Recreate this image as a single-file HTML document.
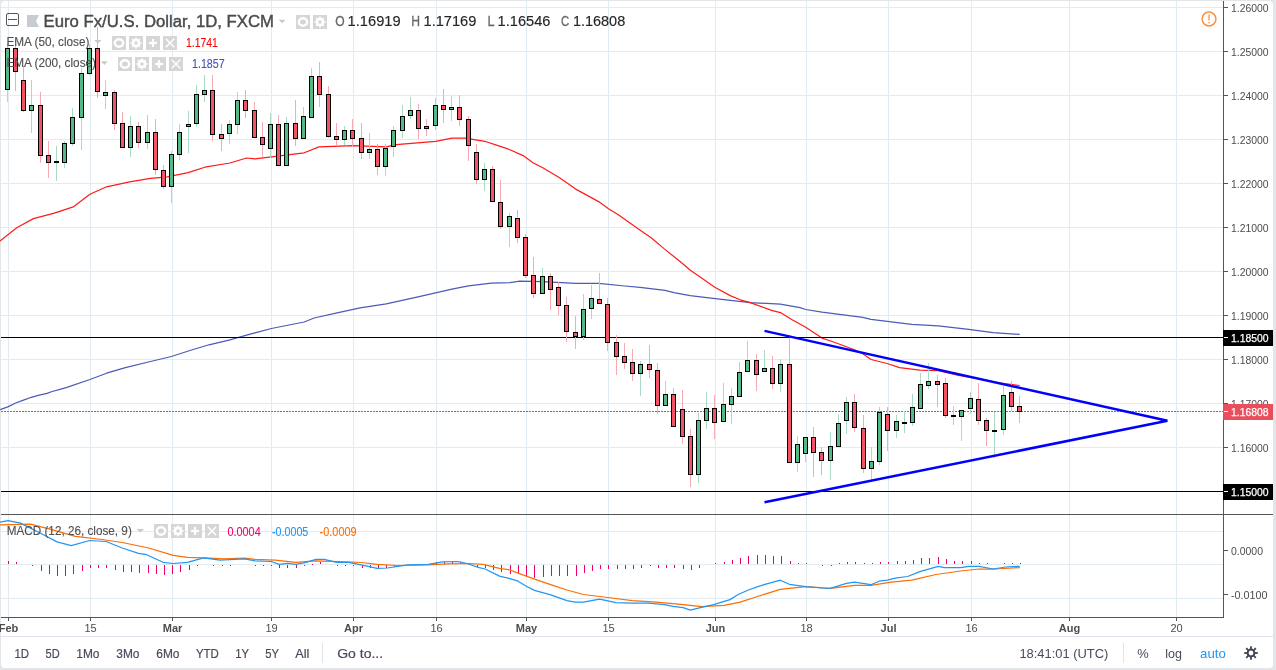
<!DOCTYPE html>
<html><head><meta charset="utf-8"><style>
html,body{margin:0;padding:0;}
body{width:1276px;height:670px;background:#e3e6e9;position:relative;overflow:hidden;font-family:"Liberation Sans",sans-serif;}
#pane{position:absolute;left:1px;top:1px;width:1272px;height:667px;background:#fff;border-radius:4px;}
svg{position:absolute;left:0;top:0;will-change:transform;}
</style></head><body>
<div id="pane"></div>
<svg width="1276" height="670" viewBox="0 0 1276 670">
<rect x="1" y="7" width="1222" height="1" fill="#e1ecf2"/>
<rect x="1" y="51" width="1222" height="1" fill="#e1ecf2"/>
<rect x="1" y="95" width="1222" height="1" fill="#e1ecf2"/>
<rect x="1" y="139" width="1222" height="1" fill="#e1ecf2"/>
<rect x="1" y="183" width="1222" height="1" fill="#e1ecf2"/>
<rect x="1" y="227" width="1222" height="1" fill="#e1ecf2"/>
<rect x="1" y="271" width="1222" height="1" fill="#e1ecf2"/>
<rect x="1" y="315" width="1222" height="1" fill="#e1ecf2"/>
<rect x="1" y="359" width="1222" height="1" fill="#e1ecf2"/>
<rect x="1" y="403" width="1222" height="1" fill="#e1ecf2"/>
<rect x="1" y="447" width="1222" height="1" fill="#e1ecf2"/>
<rect x="1" y="491" width="1222" height="1" fill="#e1ecf2"/>
<rect x="1" y="531" width="1222" height="1" fill="#e1ecf2"/>
<rect x="1" y="564" width="1222" height="1" fill="#e1ecf2"/>
<rect x="1" y="598" width="1222" height="1" fill="#e1ecf2"/>
<rect x="8" y="1" width="1" height="616" fill="#e1ecf2"/>
<rect x="90" y="1" width="1" height="616" fill="#e1ecf2"/>
<rect x="172" y="1" width="1" height="616" fill="#e1ecf2"/>
<rect x="271" y="1" width="1" height="616" fill="#e1ecf2"/>
<rect x="353" y="1" width="1" height="616" fill="#e1ecf2"/>
<rect x="436" y="1" width="1" height="616" fill="#e1ecf2"/>
<rect x="526" y="1" width="1" height="616" fill="#e1ecf2"/>
<rect x="608" y="1" width="1" height="616" fill="#e1ecf2"/>
<rect x="715" y="1" width="1" height="616" fill="#e1ecf2"/>
<rect x="806" y="1" width="1" height="616" fill="#e1ecf2"/>
<rect x="888" y="1" width="1" height="616" fill="#e1ecf2"/>
<rect x="971" y="1" width="1" height="616" fill="#e1ecf2"/>
<rect x="1069" y="1" width="1" height="616" fill="#e1ecf2"/>
<rect x="1176" y="1" width="1" height="616" fill="#e1ecf2"/>
<polyline points="0.0,409.8 1.0,409.4 7.8,406.9 15.7,403.0 23.5,400.1 31.3,397.3 39.2,395.2 47.0,393.4 52.2,391.5 60.0,389.4 66.9,387.4 89.9,379.5 106.6,373.2 125.4,367.7 150.5,361.5 171.4,356.5 192.3,349.8 209.0,344.8 229.9,339.8 246.6,335.2 255.0,332.8 271.4,328.5 304.2,322.0 314.1,318.0 337.1,312.8 360.1,307.8 386.3,303.9 419.1,296.7 452.0,289.1 468.4,285.8 491.4,283.2 510.0,282.7 519.8,281.1 542.8,281.7 575.7,283.4 598.6,283.4 624.9,286.0 640.0,287.3 665.1,290.3 673.9,292.6 690.2,295.7 715.2,298.6 750.3,302.6 780.4,304.2 800.0,307.6 805.7,309.5 822.0,312.2 862.8,317.3 871.0,319.3 911.7,324.4 938.2,325.8 968.7,329.3 993.2,332.6 1019.7,334.4" fill="none" stroke="#4a5bb8" stroke-width="1.2" stroke-linejoin="round"/>
<polyline points="0.0,241.1 16.7,227.8 33.4,218.6 54.3,213.1 73.2,206.9 89.9,194.3 106.6,186.8 129.6,181.8 150.5,178.4 167.2,176.8 188.1,172.6 204.8,167.2 229.9,163.0 246.6,158.0 255.0,158.8 304.2,152.8 319.0,146.9 353.5,145.6 386.3,146.9 396.2,144.6 435.6,141.3 452.0,138.1 465.1,138.1 484.8,141.3 498.0,145.6 510.0,149.7 523.1,155.6 533.0,162.8 542.8,167.8 559.2,177.6 575.7,189.1 598.6,201.6 608.5,208.8 618.3,214.7 641.3,231.1 651.2,237.7 664.3,248.9 680.7,262.0 690.0,270.0 715.2,287.5 730.2,295.6 740.2,299.8 750.3,302.6 771.6,310.4 780.4,312.6 791.7,319.5 805.7,327.3 822.0,338.1 832.2,341.5 854.6,349.7 862.8,353.8 871.0,359.5 887.2,363.5 899.5,367.6 919.9,370.1 938.2,370.7 958.6,375.4 978.9,378.8 999.3,382.9 1019.7,385.5" fill="none" stroke="#ff1a1a" stroke-width="1.2" stroke-linejoin="round"/>
<rect x="1" y="337" width="1222" height="1" fill="#000"/>
<rect x="1" y="491" width="1222" height="1" fill="#000"/>
<line x1="1" y1="411.5" x2="1223" y2="411.5" stroke="#e8404f" stroke-width="1" stroke-dasharray="2,1"/>
<g shape-rendering="crispEdges"><rect x="7" y="44" width="1" height="58" fill="#a9dcc3"/><rect x="5" y="48" width="5" height="42" fill="#000"/><rect x="6" y="49" width="3" height="40" fill="#53b987"/><rect x="15" y="40" width="1" height="51" fill="#f7a9b2"/><rect x="13" y="48" width="5" height="24" fill="#000"/><rect x="14" y="49" width="3" height="22" fill="#f35365"/><rect x="23" y="66" width="1" height="46" fill="#f7a9b2"/><rect x="21" y="80" width="5" height="31" fill="#000"/><rect x="22" y="81" width="3" height="29" fill="#f35365"/><rect x="31" y="80" width="1" height="53" fill="#a9dcc3"/><rect x="29" y="105" width="5" height="6" fill="#000"/><rect x="30" y="106" width="3" height="4" fill="#53b987"/><rect x="40" y="92" width="1" height="71" fill="#f7a9b2"/><rect x="38" y="105" width="5" height="51" fill="#000"/><rect x="39" y="106" width="3" height="49" fill="#f35365"/><rect x="48" y="141" width="1" height="37" fill="#f7a9b2"/><rect x="46" y="155" width="5" height="8" fill="#000"/><rect x="47" y="156" width="3" height="6" fill="#f35365"/><rect x="56" y="146" width="1" height="35" fill="#a9dcc3"/><rect x="54" y="161" width="5" height="2" fill="#000"/><rect x="64" y="141" width="1" height="27" fill="#a9dcc3"/><rect x="62" y="143" width="5" height="20" fill="#000"/><rect x="63" y="144" width="3" height="18" fill="#53b987"/><rect x="72" y="108" width="1" height="38" fill="#a9dcc3"/><rect x="70" y="117" width="5" height="27" fill="#000"/><rect x="71" y="118" width="3" height="25" fill="#53b987"/><rect x="81" y="68" width="1" height="82" fill="#a9dcc3"/><rect x="79" y="73" width="5" height="45" fill="#000"/><rect x="80" y="74" width="3" height="43" fill="#53b987"/><rect x="89" y="44" width="1" height="31" fill="#a9dcc3"/><rect x="87" y="48" width="5" height="26" fill="#000"/><rect x="88" y="49" width="3" height="24" fill="#53b987"/><rect x="97" y="27" width="1" height="71" fill="#f7a9b2"/><rect x="95" y="48" width="5" height="44" fill="#000"/><rect x="96" y="49" width="3" height="42" fill="#f35365"/><rect x="105" y="80" width="1" height="29" fill="#a9dcc3"/><rect x="103" y="92" width="5" height="4" fill="#000"/><rect x="104" y="93" width="3" height="2" fill="#53b987"/><rect x="114" y="90" width="1" height="40" fill="#f7a9b2"/><rect x="112" y="92" width="5" height="32" fill="#000"/><rect x="113" y="93" width="3" height="30" fill="#f35365"/><rect x="122" y="112" width="1" height="36" fill="#f7a9b2"/><rect x="120" y="123" width="5" height="25" fill="#000"/><rect x="121" y="124" width="3" height="23" fill="#f35365"/><rect x="130" y="116" width="1" height="41" fill="#a9dcc3"/><rect x="128" y="126" width="5" height="22" fill="#000"/><rect x="129" y="127" width="3" height="20" fill="#53b987"/><rect x="138" y="122" width="1" height="26" fill="#f7a9b2"/><rect x="136" y="126" width="5" height="17" fill="#000"/><rect x="137" y="127" width="3" height="15" fill="#f35365"/><rect x="147" y="115" width="1" height="34" fill="#a9dcc3"/><rect x="145" y="132" width="5" height="11" fill="#000"/><rect x="146" y="133" width="3" height="9" fill="#53b987"/><rect x="155" y="119" width="1" height="56" fill="#f7a9b2"/><rect x="153" y="132" width="5" height="38" fill="#000"/><rect x="154" y="133" width="3" height="36" fill="#f35365"/><rect x="163" y="165" width="1" height="24" fill="#f7a9b2"/><rect x="161" y="170" width="5" height="17" fill="#000"/><rect x="162" y="171" width="3" height="15" fill="#f35365"/><rect x="171" y="151" width="1" height="52" fill="#a9dcc3"/><rect x="169" y="154" width="5" height="33" fill="#000"/><rect x="170" y="155" width="3" height="31" fill="#53b987"/><rect x="179" y="124" width="1" height="36" fill="#a9dcc3"/><rect x="177" y="132" width="5" height="23" fill="#000"/><rect x="178" y="133" width="3" height="21" fill="#53b987"/><rect x="188" y="111" width="1" height="42" fill="#a9dcc3"/><rect x="186" y="124" width="5" height="3" fill="#000"/><rect x="187" y="125" width="3" height="1" fill="#53b987"/><rect x="196" y="85" width="1" height="42" fill="#a9dcc3"/><rect x="194" y="94" width="5" height="30" fill="#000"/><rect x="195" y="95" width="3" height="28" fill="#53b987"/><rect x="204" y="75" width="1" height="27" fill="#a9dcc3"/><rect x="202" y="90" width="5" height="5" fill="#000"/><rect x="203" y="91" width="3" height="3" fill="#53b987"/><rect x="212" y="75" width="1" height="66" fill="#f7a9b2"/><rect x="210" y="90" width="5" height="45" fill="#000"/><rect x="211" y="91" width="3" height="43" fill="#f35365"/><rect x="221" y="124" width="1" height="27" fill="#f7a9b2"/><rect x="219" y="134" width="5" height="5" fill="#000"/><rect x="220" y="135" width="3" height="3" fill="#f35365"/><rect x="229" y="120" width="1" height="24" fill="#a9dcc3"/><rect x="227" y="124" width="5" height="10" fill="#000"/><rect x="228" y="125" width="3" height="8" fill="#53b987"/><rect x="237" y="92" width="1" height="42" fill="#a9dcc3"/><rect x="235" y="100" width="5" height="25" fill="#000"/><rect x="236" y="101" width="3" height="23" fill="#53b987"/><rect x="245" y="90" width="1" height="28" fill="#f7a9b2"/><rect x="243" y="100" width="5" height="11" fill="#000"/><rect x="244" y="101" width="3" height="9" fill="#f35365"/><rect x="254" y="102" width="1" height="36" fill="#f7a9b2"/><rect x="252" y="110" width="5" height="28" fill="#000"/><rect x="253" y="111" width="3" height="26" fill="#f35365"/><rect x="262" y="122" width="1" height="35" fill="#f7a9b2"/><rect x="260" y="137" width="5" height="8" fill="#000"/><rect x="261" y="138" width="3" height="6" fill="#f35365"/><rect x="270" y="113" width="1" height="45" fill="#a9dcc3"/><rect x="268" y="124" width="5" height="25" fill="#000"/><rect x="269" y="125" width="3" height="23" fill="#53b987"/><rect x="278" y="115" width="1" height="51" fill="#f7a9b2"/><rect x="276" y="124" width="5" height="42" fill="#000"/><rect x="277" y="125" width="3" height="40" fill="#f35365"/><rect x="286" y="117" width="1" height="49" fill="#a9dcc3"/><rect x="284" y="123" width="5" height="43" fill="#000"/><rect x="285" y="124" width="3" height="41" fill="#53b987"/><rect x="295" y="100" width="1" height="46" fill="#f7a9b2"/><rect x="293" y="123" width="5" height="16" fill="#000"/><rect x="294" y="124" width="3" height="14" fill="#f35365"/><rect x="303" y="107" width="1" height="32" fill="#a9dcc3"/><rect x="301" y="116" width="5" height="23" fill="#000"/><rect x="302" y="117" width="3" height="21" fill="#53b987"/><rect x="311" y="68" width="1" height="50" fill="#a9dcc3"/><rect x="309" y="76" width="5" height="42" fill="#000"/><rect x="310" y="77" width="3" height="40" fill="#53b987"/><rect x="319" y="62" width="1" height="45" fill="#f7a9b2"/><rect x="317" y="76" width="5" height="19" fill="#000"/><rect x="318" y="77" width="3" height="17" fill="#f35365"/><rect x="328" y="86" width="1" height="52" fill="#f7a9b2"/><rect x="326" y="94" width="5" height="43" fill="#000"/><rect x="327" y="95" width="3" height="41" fill="#f35365"/><rect x="336" y="123" width="1" height="23" fill="#f7a9b2"/><rect x="334" y="136" width="5" height="4" fill="#000"/><rect x="335" y="137" width="3" height="2" fill="#f35365"/><rect x="344" y="126" width="1" height="19" fill="#a9dcc3"/><rect x="342" y="130" width="5" height="10" fill="#000"/><rect x="343" y="131" width="3" height="8" fill="#53b987"/><rect x="352" y="119" width="1" height="28" fill="#f7a9b2"/><rect x="350" y="130" width="5" height="9" fill="#000"/><rect x="351" y="131" width="3" height="7" fill="#f35365"/><rect x="361" y="123" width="1" height="36" fill="#f7a9b2"/><rect x="359" y="138" width="5" height="15" fill="#000"/><rect x="360" y="139" width="3" height="13" fill="#f35365"/><rect x="369" y="133" width="1" height="26" fill="#a9dcc3"/><rect x="367" y="149" width="5" height="4" fill="#000"/><rect x="368" y="150" width="3" height="2" fill="#53b987"/><rect x="377" y="144" width="1" height="31" fill="#f7a9b2"/><rect x="375" y="149" width="5" height="18" fill="#000"/><rect x="376" y="150" width="3" height="16" fill="#f35365"/><rect x="385" y="144" width="1" height="32" fill="#a9dcc3"/><rect x="383" y="148" width="5" height="19" fill="#000"/><rect x="384" y="149" width="3" height="17" fill="#53b987"/><rect x="393" y="126" width="1" height="31" fill="#a9dcc3"/><rect x="391" y="130" width="5" height="17" fill="#000"/><rect x="392" y="131" width="3" height="15" fill="#53b987"/><rect x="402" y="105" width="1" height="33" fill="#a9dcc3"/><rect x="400" y="116" width="5" height="15" fill="#000"/><rect x="401" y="117" width="3" height="13" fill="#53b987"/><rect x="410" y="97" width="1" height="22" fill="#a9dcc3"/><rect x="408" y="110" width="5" height="6" fill="#000"/><rect x="409" y="111" width="3" height="4" fill="#53b987"/><rect x="418" y="104" width="1" height="35" fill="#f7a9b2"/><rect x="416" y="110" width="5" height="19" fill="#000"/><rect x="417" y="111" width="3" height="17" fill="#f35365"/><rect x="426" y="119" width="1" height="17" fill="#f7a9b2"/><rect x="424" y="126" width="5" height="3" fill="#000"/><rect x="425" y="127" width="3" height="1" fill="#f35365"/><rect x="435" y="98" width="1" height="32" fill="#a9dcc3"/><rect x="433" y="105" width="5" height="21" fill="#000"/><rect x="434" y="106" width="3" height="19" fill="#53b987"/><rect x="443" y="89" width="1" height="34" fill="#f7a9b2"/><rect x="441" y="105" width="5" height="5" fill="#000"/><rect x="442" y="106" width="3" height="3" fill="#f35365"/><rect x="451" y="96" width="1" height="25" fill="#a9dcc3"/><rect x="449" y="107" width="5" height="3" fill="#000"/><rect x="450" y="108" width="3" height="1" fill="#53b987"/><rect x="459" y="95" width="1" height="31" fill="#f7a9b2"/><rect x="457" y="107" width="5" height="13" fill="#000"/><rect x="458" y="108" width="3" height="11" fill="#f35365"/><rect x="468" y="116" width="1" height="45" fill="#f7a9b2"/><rect x="466" y="119" width="5" height="27" fill="#000"/><rect x="467" y="120" width="3" height="25" fill="#f35365"/><rect x="476" y="144" width="1" height="40" fill="#f7a9b2"/><rect x="474" y="152" width="5" height="28" fill="#000"/><rect x="475" y="153" width="3" height="26" fill="#f35365"/><rect x="484" y="163" width="1" height="28" fill="#a9dcc3"/><rect x="482" y="169" width="5" height="11" fill="#000"/><rect x="483" y="170" width="3" height="9" fill="#53b987"/><rect x="492" y="166" width="1" height="36" fill="#f7a9b2"/><rect x="490" y="169" width="5" height="33" fill="#000"/><rect x="491" y="170" width="3" height="31" fill="#f35365"/><rect x="500" y="180" width="1" height="49" fill="#f7a9b2"/><rect x="498" y="202" width="5" height="25" fill="#000"/><rect x="499" y="203" width="3" height="23" fill="#f35365"/><rect x="509" y="213" width="1" height="34" fill="#a9dcc3"/><rect x="507" y="216" width="5" height="11" fill="#000"/><rect x="508" y="217" width="3" height="9" fill="#53b987"/><rect x="517" y="210" width="1" height="33" fill="#f7a9b2"/><rect x="515" y="218" width="5" height="20" fill="#000"/><rect x="516" y="219" width="3" height="18" fill="#f35365"/><rect x="525" y="234" width="1" height="44" fill="#f7a9b2"/><rect x="523" y="237" width="5" height="39" fill="#000"/><rect x="524" y="238" width="3" height="37" fill="#f35365"/><rect x="533" y="257" width="1" height="41" fill="#f7a9b2"/><rect x="531" y="275" width="5" height="19" fill="#000"/><rect x="532" y="276" width="3" height="17" fill="#f35365"/><rect x="542" y="268" width="1" height="26" fill="#a9dcc3"/><rect x="540" y="276" width="5" height="18" fill="#000"/><rect x="541" y="277" width="3" height="16" fill="#53b987"/><rect x="550" y="273" width="1" height="37" fill="#f7a9b2"/><rect x="548" y="276" width="5" height="14" fill="#000"/><rect x="549" y="277" width="3" height="12" fill="#f35365"/><rect x="558" y="282" width="1" height="33" fill="#f7a9b2"/><rect x="556" y="287" width="5" height="19" fill="#000"/><rect x="557" y="288" width="3" height="17" fill="#f35365"/><rect x="566" y="297" width="1" height="45" fill="#f7a9b2"/><rect x="564" y="305" width="5" height="27" fill="#000"/><rect x="565" y="306" width="3" height="25" fill="#f35365"/><rect x="575" y="316" width="1" height="33" fill="#f7a9b2"/><rect x="573" y="332" width="5" height="5" fill="#000"/><rect x="574" y="333" width="3" height="3" fill="#f35365"/><rect x="583" y="294" width="1" height="46" fill="#a9dcc3"/><rect x="581" y="309" width="5" height="28" fill="#000"/><rect x="582" y="310" width="3" height="26" fill="#53b987"/><rect x="591" y="285" width="1" height="34" fill="#a9dcc3"/><rect x="589" y="298" width="5" height="11" fill="#000"/><rect x="590" y="299" width="3" height="9" fill="#53b987"/><rect x="599" y="273" width="1" height="31" fill="#f7a9b2"/><rect x="597" y="299" width="5" height="5" fill="#000"/><rect x="598" y="300" width="3" height="3" fill="#f35365"/><rect x="607" y="298" width="1" height="53" fill="#f7a9b2"/><rect x="605" y="304" width="5" height="39" fill="#000"/><rect x="606" y="305" width="3" height="37" fill="#f35365"/><rect x="616" y="335" width="1" height="40" fill="#f7a9b2"/><rect x="614" y="342" width="5" height="15" fill="#000"/><rect x="615" y="343" width="3" height="13" fill="#f35365"/><rect x="624" y="343" width="1" height="26" fill="#f7a9b2"/><rect x="622" y="356" width="5" height="7" fill="#000"/><rect x="623" y="357" width="3" height="5" fill="#f35365"/><rect x="632" y="349" width="1" height="32" fill="#f7a9b2"/><rect x="630" y="362" width="5" height="12" fill="#000"/><rect x="631" y="363" width="3" height="10" fill="#f35365"/><rect x="640" y="361" width="1" height="35" fill="#a9dcc3"/><rect x="638" y="364" width="5" height="10" fill="#000"/><rect x="639" y="365" width="3" height="8" fill="#53b987"/><rect x="649" y="345" width="1" height="33" fill="#f7a9b2"/><rect x="647" y="364" width="5" height="6" fill="#000"/><rect x="648" y="365" width="3" height="4" fill="#f35365"/><rect x="657" y="363" width="1" height="51" fill="#f7a9b2"/><rect x="655" y="370" width="5" height="36" fill="#000"/><rect x="656" y="371" width="3" height="34" fill="#f35365"/><rect x="665" y="381" width="1" height="25" fill="#a9dcc3"/><rect x="663" y="394" width="5" height="12" fill="#000"/><rect x="664" y="395" width="3" height="10" fill="#53b987"/><rect x="673" y="388" width="1" height="39" fill="#f7a9b2"/><rect x="671" y="394" width="5" height="33" fill="#000"/><rect x="672" y="395" width="3" height="31" fill="#f35365"/><rect x="682" y="390" width="1" height="54" fill="#f7a9b2"/><rect x="680" y="409" width="5" height="28" fill="#000"/><rect x="681" y="410" width="3" height="26" fill="#f35365"/><rect x="690" y="429" width="1" height="58" fill="#f7a9b2"/><rect x="688" y="436" width="5" height="39" fill="#000"/><rect x="689" y="437" width="3" height="37" fill="#f35365"/><rect x="698" y="413" width="1" height="70" fill="#a9dcc3"/><rect x="696" y="420" width="5" height="55" fill="#000"/><rect x="697" y="421" width="3" height="53" fill="#53b987"/><rect x="706" y="392" width="1" height="37" fill="#a9dcc3"/><rect x="704" y="408" width="5" height="13" fill="#000"/><rect x="705" y="409" width="3" height="11" fill="#53b987"/><rect x="714" y="395" width="1" height="44" fill="#f7a9b2"/><rect x="712" y="408" width="5" height="15" fill="#000"/><rect x="713" y="409" width="3" height="13" fill="#f35365"/><rect x="723" y="383" width="1" height="39" fill="#a9dcc3"/><rect x="721" y="404" width="5" height="18" fill="#000"/><rect x="722" y="405" width="3" height="16" fill="#53b987"/><rect x="731" y="388" width="1" height="36" fill="#a9dcc3"/><rect x="729" y="396" width="5" height="9" fill="#000"/><rect x="730" y="397" width="3" height="7" fill="#53b987"/><rect x="739" y="362" width="1" height="35" fill="#a9dcc3"/><rect x="737" y="372" width="5" height="25" fill="#000"/><rect x="738" y="373" width="3" height="23" fill="#53b987"/><rect x="747" y="341" width="1" height="31" fill="#a9dcc3"/><rect x="745" y="360" width="5" height="12" fill="#000"/><rect x="746" y="361" width="3" height="10" fill="#53b987"/><rect x="756" y="354" width="1" height="37" fill="#f7a9b2"/><rect x="754" y="360" width="5" height="15" fill="#000"/><rect x="755" y="361" width="3" height="13" fill="#f35365"/><rect x="764" y="350" width="1" height="22" fill="#a9dcc3"/><rect x="762" y="368" width="5" height="4" fill="#000"/><rect x="763" y="369" width="3" height="2" fill="#53b987"/><rect x="772" y="356" width="1" height="33" fill="#f7a9b2"/><rect x="770" y="368" width="5" height="16" fill="#000"/><rect x="771" y="369" width="3" height="14" fill="#f35365"/><rect x="780" y="359" width="1" height="33" fill="#a9dcc3"/><rect x="778" y="364" width="5" height="20" fill="#000"/><rect x="779" y="365" width="3" height="18" fill="#53b987"/><rect x="789" y="335" width="1" height="128" fill="#f7a9b2"/><rect x="787" y="364" width="5" height="99" fill="#000"/><rect x="788" y="365" width="3" height="97" fill="#f35365"/><rect x="797" y="436" width="1" height="36" fill="#a9dcc3"/><rect x="795" y="444" width="5" height="19" fill="#000"/><rect x="796" y="445" width="3" height="17" fill="#53b987"/><rect x="805" y="437" width="1" height="25" fill="#a9dcc3"/><rect x="803" y="437" width="5" height="17" fill="#000"/><rect x="804" y="438" width="3" height="15" fill="#53b987"/><rect x="813" y="427" width="1" height="50" fill="#f7a9b2"/><rect x="811" y="437" width="5" height="16" fill="#000"/><rect x="812" y="438" width="3" height="14" fill="#f35365"/><rect x="821" y="447" width="1" height="28" fill="#f7a9b2"/><rect x="819" y="452" width="5" height="9" fill="#000"/><rect x="820" y="453" width="3" height="7" fill="#f35365"/><rect x="830" y="432" width="1" height="48" fill="#a9dcc3"/><rect x="828" y="446" width="5" height="15" fill="#000"/><rect x="829" y="447" width="3" height="13" fill="#53b987"/><rect x="838" y="414" width="1" height="33" fill="#a9dcc3"/><rect x="836" y="423" width="5" height="24" fill="#000"/><rect x="837" y="424" width="3" height="22" fill="#53b987"/><rect x="846" y="397" width="1" height="37" fill="#a9dcc3"/><rect x="844" y="402" width="5" height="19" fill="#000"/><rect x="845" y="403" width="3" height="17" fill="#53b987"/><rect x="854" y="394" width="1" height="38" fill="#f7a9b2"/><rect x="852" y="402" width="5" height="26" fill="#000"/><rect x="853" y="403" width="3" height="24" fill="#f35365"/><rect x="863" y="415" width="1" height="58" fill="#f7a9b2"/><rect x="861" y="428" width="5" height="41" fill="#000"/><rect x="862" y="429" width="3" height="39" fill="#f35365"/><rect x="871" y="447" width="1" height="33" fill="#a9dcc3"/><rect x="869" y="461" width="5" height="8" fill="#000"/><rect x="870" y="462" width="3" height="6" fill="#53b987"/><rect x="879" y="407" width="1" height="58" fill="#a9dcc3"/><rect x="877" y="412" width="5" height="50" fill="#000"/><rect x="878" y="413" width="3" height="48" fill="#53b987"/><rect x="887" y="407" width="1" height="44" fill="#f7a9b2"/><rect x="885" y="414" width="5" height="17" fill="#000"/><rect x="886" y="415" width="3" height="15" fill="#f35365"/><rect x="896" y="415" width="1" height="23" fill="#a9dcc3"/><rect x="894" y="421" width="5" height="10" fill="#000"/><rect x="895" y="422" width="3" height="8" fill="#53b987"/><rect x="904" y="411" width="1" height="22" fill="#a9dcc3"/><rect x="902" y="422" width="5" height="2" fill="#000"/><rect x="912" y="394" width="1" height="32" fill="#a9dcc3"/><rect x="910" y="407" width="5" height="16" fill="#000"/><rect x="911" y="408" width="3" height="14" fill="#53b987"/><rect x="920" y="373" width="1" height="36" fill="#a9dcc3"/><rect x="918" y="384" width="5" height="25" fill="#000"/><rect x="919" y="385" width="3" height="23" fill="#53b987"/><rect x="928" y="363" width="1" height="26" fill="#a9dcc3"/><rect x="926" y="381" width="5" height="5" fill="#000"/><rect x="927" y="382" width="3" height="3" fill="#53b987"/><rect x="937" y="375" width="1" height="32" fill="#f7a9b2"/><rect x="935" y="381" width="5" height="4" fill="#000"/><rect x="936" y="382" width="3" height="2" fill="#f35365"/><rect x="945" y="378" width="1" height="40" fill="#f7a9b2"/><rect x="943" y="383" width="5" height="33" fill="#000"/><rect x="944" y="384" width="3" height="31" fill="#f35365"/><rect x="953" y="406" width="1" height="19" fill="#a9dcc3"/><rect x="951" y="415" width="5" height="2" fill="#000"/><rect x="961" y="410" width="1" height="31" fill="#a9dcc3"/><rect x="959" y="410" width="5" height="7" fill="#000"/><rect x="960" y="411" width="3" height="5" fill="#53b987"/><rect x="970" y="392" width="1" height="22" fill="#a9dcc3"/><rect x="968" y="398" width="5" height="11" fill="#000"/><rect x="969" y="399" width="3" height="9" fill="#53b987"/><rect x="978" y="383" width="1" height="42" fill="#f7a9b2"/><rect x="976" y="399" width="5" height="22" fill="#000"/><rect x="977" y="400" width="3" height="20" fill="#f35365"/><rect x="986" y="418" width="1" height="28" fill="#f7a9b2"/><rect x="984" y="420" width="5" height="11" fill="#000"/><rect x="985" y="421" width="3" height="9" fill="#f35365"/><rect x="994" y="412" width="1" height="46" fill="#a9dcc3"/><rect x="992" y="430" width="5" height="2" fill="#000"/><rect x="1003" y="386" width="1" height="49" fill="#a9dcc3"/><rect x="1001" y="395" width="5" height="35" fill="#000"/><rect x="1002" y="396" width="3" height="33" fill="#53b987"/><rect x="1011" y="381" width="1" height="30" fill="#f7a9b2"/><rect x="1009" y="392" width="5" height="15" fill="#000"/><rect x="1010" y="393" width="3" height="13" fill="#f35365"/><rect x="1019" y="396" width="1" height="27" fill="#f7a9b2"/><rect x="1017" y="406" width="5" height="6" fill="#000"/><rect x="1018" y="407" width="3" height="4" fill="#f35365"/></g>
<polyline points="764.5,330.9 1167.4,420.8 764.5,502.2" fill="none" stroke="#0000ff" stroke-width="2.5" stroke-linejoin="miter"/>
<g shape-rendering="crispEdges"><rect x="8" y="561" width="1" height="3" fill="#f0006c"/><rect x="16" y="562" width="1" height="2" fill="#f0006c"/><rect x="32" y="565" width="1" height="1" fill="#f0006c"/><rect x="41" y="565" width="1" height="6" fill="#f0006c"/><rect x="49" y="565" width="1" height="9" fill="#f0006c"/><rect x="57" y="565" width="1" height="11" fill="#f0006c"/><rect x="65" y="565" width="1" height="11" fill="#f0006c"/><rect x="73" y="565" width="1" height="9" fill="#f0006c"/><rect x="82" y="565" width="1" height="6" fill="#f0006c"/><rect x="90" y="565" width="1" height="3" fill="#f0006c"/><rect x="98" y="565" width="1" height="3" fill="#f0006c"/><rect x="106" y="565" width="1" height="3" fill="#f0006c"/><rect x="115" y="565" width="1" height="5" fill="#f0006c"/><rect x="123" y="565" width="1" height="7" fill="#f0006c"/><rect x="131" y="565" width="1" height="7" fill="#f0006c"/><rect x="139" y="565" width="1" height="8" fill="#f0006c"/><rect x="148" y="565" width="1" height="8" fill="#f0006c"/><rect x="156" y="565" width="1" height="9" fill="#f0006c"/><rect x="164" y="565" width="1" height="10" fill="#f0006c"/><rect x="172" y="565" width="1" height="9" fill="#f0006c"/><rect x="180" y="565" width="1" height="7" fill="#f0006c"/><rect x="189" y="565" width="1" height="5" fill="#f0006c"/><rect x="197" y="565" width="1" height="1" fill="#f0006c"/><rect x="213" y="565" width="1" height="1" fill="#f0006c"/><rect x="222" y="565" width="1" height="1" fill="#f0006c"/><rect x="230" y="565" width="1" height="1" fill="#f0006c"/><rect x="255" y="565" width="1" height="1" fill="#f0006c"/><rect x="263" y="565" width="1" height="1" fill="#f0006c"/><rect x="271" y="565" width="1" height="1" fill="#f0006c"/><rect x="279" y="565" width="1" height="3" fill="#f0006c"/><rect x="287" y="565" width="1" height="3" fill="#f0006c"/><rect x="296" y="565" width="1" height="3" fill="#f0006c"/><rect x="304" y="565" width="1" height="1" fill="#f0006c"/><rect x="312" y="564" width="1" height="1" fill="#f0006c"/><rect x="320" y="562" width="1" height="2" fill="#f0006c"/><rect x="337" y="565" width="1" height="1" fill="#f0006c"/><rect x="345" y="565" width="1" height="1" fill="#f0006c"/><rect x="353" y="565" width="1" height="1" fill="#f0006c"/><rect x="362" y="565" width="1" height="3" fill="#f0006c"/><rect x="370" y="565" width="1" height="3" fill="#f0006c"/><rect x="378" y="565" width="1" height="3" fill="#f0006c"/><rect x="386" y="565" width="1" height="3" fill="#f0006c"/><rect x="394" y="565" width="1" height="2" fill="#f0006c"/><rect x="403" y="565" width="1" height="1" fill="#f0006c"/><rect x="436" y="562" width="1" height="2" fill="#f0006c"/><rect x="444" y="562" width="1" height="2" fill="#f0006c"/><rect x="452" y="562" width="1" height="2" fill="#f0006c"/><rect x="460" y="562" width="1" height="2" fill="#f0006c"/><rect x="477" y="565" width="1" height="2" fill="#f0006c"/><rect x="485" y="565" width="1" height="3" fill="#f0006c"/><rect x="493" y="565" width="1" height="5" fill="#f0006c"/><rect x="501" y="565" width="1" height="7" fill="#f0006c"/><rect x="510" y="565" width="1" height="9" fill="#f0006c"/><rect x="518" y="565" width="1" height="8" fill="#f0006c"/><rect x="526" y="565" width="1" height="11" fill="#f0006c"/><rect x="534" y="565" width="1" height="13" fill="#f0006c"/><rect x="543" y="565" width="1" height="12" fill="#f0006c"/><rect x="551" y="565" width="1" height="11" fill="#f0006c"/><rect x="559" y="565" width="1" height="11" fill="#f0006c"/><rect x="567" y="565" width="1" height="11" fill="#f0006c"/><rect x="576" y="565" width="1" height="11" fill="#f0006c"/><rect x="584" y="565" width="1" height="8" fill="#f0006c"/><rect x="592" y="565" width="1" height="6" fill="#f0006c"/><rect x="600" y="565" width="1" height="4" fill="#f0006c"/><rect x="608" y="565" width="1" height="4" fill="#f0006c"/><rect x="617" y="565" width="1" height="4" fill="#f0006c"/><rect x="625" y="565" width="1" height="4" fill="#f0006c"/><rect x="633" y="565" width="1" height="4" fill="#f0006c"/><rect x="641" y="565" width="1" height="3" fill="#f0006c"/><rect x="650" y="565" width="1" height="1" fill="#f0006c"/><rect x="658" y="565" width="1" height="3" fill="#f0006c"/><rect x="666" y="565" width="1" height="3" fill="#f0006c"/><rect x="674" y="565" width="1" height="3" fill="#f0006c"/><rect x="683" y="565" width="1" height="4" fill="#f0006c"/><rect x="691" y="565" width="1" height="5" fill="#f0006c"/><rect x="699" y="565" width="1" height="3" fill="#f0006c"/><rect x="715" y="563" width="1" height="1" fill="#f0006c"/><rect x="724" y="562" width="1" height="2" fill="#f0006c"/><rect x="732" y="560" width="1" height="4" fill="#f0006c"/><rect x="740" y="558" width="1" height="6" fill="#f0006c"/><rect x="748" y="556" width="1" height="8" fill="#f0006c"/><rect x="757" y="555" width="1" height="9" fill="#f0006c"/><rect x="765" y="555" width="1" height="9" fill="#f0006c"/><rect x="773" y="556" width="1" height="8" fill="#f0006c"/><rect x="781" y="556" width="1" height="8" fill="#f0006c"/><rect x="790" y="561" width="1" height="3" fill="#f0006c"/><rect x="798" y="563" width="1" height="1" fill="#f0006c"/><rect x="806" y="563" width="1" height="1" fill="#f0006c"/><rect x="822" y="565" width="1" height="1" fill="#f0006c"/><rect x="831" y="565" width="1" height="1" fill="#f0006c"/><rect x="839" y="563" width="1" height="1" fill="#f0006c"/><rect x="847" y="562" width="1" height="2" fill="#f0006c"/><rect x="855" y="562" width="1" height="2" fill="#f0006c"/><rect x="864" y="563" width="1" height="1" fill="#f0006c"/><rect x="872" y="563" width="1" height="1" fill="#f0006c"/><rect x="880" y="562" width="1" height="2" fill="#f0006c"/><rect x="888" y="562" width="1" height="2" fill="#f0006c"/><rect x="897" y="561" width="1" height="3" fill="#f0006c"/><rect x="905" y="561" width="1" height="3" fill="#f0006c"/><rect x="913" y="560" width="1" height="4" fill="#f0006c"/><rect x="921" y="558" width="1" height="6" fill="#f0006c"/><rect x="929" y="558" width="1" height="6" fill="#f0006c"/><rect x="938" y="557" width="1" height="7" fill="#f0006c"/><rect x="946" y="559" width="1" height="5" fill="#f0006c"/><rect x="954" y="561" width="1" height="3" fill="#f0006c"/><rect x="962" y="561" width="1" height="3" fill="#f0006c"/><rect x="971" y="561" width="1" height="3" fill="#f0006c"/><rect x="979" y="563" width="1" height="1" fill="#f0006c"/><rect x="987" y="563" width="1" height="1" fill="#f0006c"/><rect x="1004" y="563" width="1" height="1" fill="#f0006c"/><rect x="1012" y="563" width="1" height="1" fill="#f0006c"/><rect x="1020" y="563" width="1" height="1" fill="#f0006c"/></g>
<polyline points="0.0,524.8 30.6,524.2 50.9,529.3 75.4,536.4 101.9,539.5 122.2,542.5 148.7,548.0 173.2,555.3 187.4,557.4 203.7,557.8 224.1,558.8 244.5,558.2 255.0,559.4 275.4,560.2 295.7,562.3 316.1,560.8 346.7,561.9 361.0,562.5 377.2,564.3 397.6,565.5 428.2,564.9 448.6,563.9 468.9,563.5 483.2,564.3 499.5,568.4 510.0,570.0 518.1,573.1 534.5,579.2 550.7,584.7 567.0,590.0 583.4,594.5 607.8,597.5 632.2,600.6 656.7,602.2 683.2,604.6 701.5,606.7 724.0,605.3 740.2,602.2 754.5,597.5 765.0,594.1 780.3,589.4 789.4,588.4 805.7,586.7 830.2,588.4 854.6,585.3 870.9,585.3 891.3,582.2 911.7,580.2 936.1,574.5 960.6,571.0 978.9,569.0 995.2,569.0 1019.7,567.6" fill="none" stroke="#ff6d00" stroke-width="1.25" stroke-linejoin="round"/>
<polyline points="0.0,522.1 8.1,520.7 20.4,523.1 40.7,533.3 57.0,541.9 71.3,545.6 89.6,540.5 106.0,541.5 122.2,548.0 138.5,553.3 146.7,554.7 163.0,562.3 173.2,563.5 187.4,562.3 203.7,557.8 220.0,560.2 244.5,558.8 255.0,560.8 271.3,561.5 279.4,564.3 287.6,563.3 295.7,564.3 303.9,562.9 316.1,559.4 324.3,559.4 336.5,562.3 348.7,562.3 361.0,564.9 377.2,568.4 387.4,568.0 407.8,564.9 428.2,564.3 442.4,561.9 458.7,561.5 466.9,563.5 479.1,567.6 485.2,569.0 499.5,576.1 510.0,578.6 518.1,581.2 526.3,586.3 534.5,590.4 550.7,594.9 567.0,600.6 575.2,602.2 583.4,602.2 599.6,599.1 616.0,602.6 632.2,603.2 648.5,603.2 664.8,604.6 673.0,606.3 683.2,607.7 690.3,610.2 701.5,607.3 713.7,604.6 730.0,599.6 738.2,594.5 748.4,590.0 758.6,586.3 765.0,584.3 780.3,580.2 789.4,584.3 805.7,586.7 822.0,588.0 830.2,588.4 846.5,583.3 854.6,582.2 870.9,584.7 879.1,581.2 887.2,580.2 895.4,578.2 907.6,576.5 919.9,571.6 938.2,566.3 944.3,567.6 960.6,567.6 968.7,566.3 978.9,566.3 993.2,569.0 1005.4,567.0 1019.7,566.3" fill="none" stroke="#2196f3" stroke-width="1.25" stroke-linejoin="round"/>
<rect x="1" y="514" width="1272" height="1" fill="#555555"/>
<rect x="1223" y="1" width="1" height="617" fill="#555555"/>
<rect x="1" y="617" width="1223" height="1" fill="#555555"/>
<rect x="1224" y="7" width="4" height="1" fill="#555555"/>
<rect x="1224" y="51" width="4" height="1" fill="#555555"/>
<rect x="1224" y="95" width="4" height="1" fill="#555555"/>
<rect x="1224" y="139" width="4" height="1" fill="#555555"/>
<rect x="1224" y="183" width="4" height="1" fill="#555555"/>
<rect x="1224" y="227" width="4" height="1" fill="#555555"/>
<rect x="1224" y="271" width="4" height="1" fill="#555555"/>
<rect x="1224" y="315" width="4" height="1" fill="#555555"/>
<rect x="1224" y="359" width="4" height="1" fill="#555555"/>
<rect x="1224" y="403" width="4" height="1" fill="#555555"/>
<rect x="1224" y="447" width="4" height="1" fill="#555555"/>
<rect x="1224" y="550" width="4" height="1" fill="#555555"/>
<rect x="1224" y="594" width="4" height="1" fill="#555555"/>
<rect x="8" y="618" width="1" height="3" fill="#555555"/>
<rect x="90" y="618" width="1" height="3" fill="#555555"/>
<rect x="172" y="618" width="1" height="3" fill="#555555"/>
<rect x="271" y="618" width="1" height="3" fill="#555555"/>
<rect x="353" y="618" width="1" height="3" fill="#555555"/>
<rect x="436" y="618" width="1" height="3" fill="#555555"/>
<rect x="526" y="618" width="1" height="3" fill="#555555"/>
<rect x="608" y="618" width="1" height="3" fill="#555555"/>
<rect x="715" y="618" width="1" height="3" fill="#555555"/>
<rect x="806" y="618" width="1" height="3" fill="#555555"/>
<rect x="888" y="618" width="1" height="3" fill="#555555"/>
<rect x="971" y="618" width="1" height="3" fill="#555555"/>
<rect x="1069" y="618" width="1" height="3" fill="#555555"/>
<rect x="1176" y="618" width="1" height="3" fill="#555555"/>
<text x="1231" y="11.5" font-family="'Liberation Sans', sans-serif" font-size="11" fill="#4c4c4c" textLength="37.6" lengthAdjust="spacingAndGlyphs">1.26000</text>
<text x="1231" y="55.5" font-family="'Liberation Sans', sans-serif" font-size="11" fill="#4c4c4c" textLength="37.6" lengthAdjust="spacingAndGlyphs">1.25000</text>
<text x="1231" y="99.5" font-family="'Liberation Sans', sans-serif" font-size="11" fill="#4c4c4c" textLength="37.6" lengthAdjust="spacingAndGlyphs">1.24000</text>
<text x="1231" y="143.5" font-family="'Liberation Sans', sans-serif" font-size="11" fill="#4c4c4c" textLength="37.6" lengthAdjust="spacingAndGlyphs">1.23000</text>
<text x="1231" y="187.5" font-family="'Liberation Sans', sans-serif" font-size="11" fill="#4c4c4c" textLength="37.6" lengthAdjust="spacingAndGlyphs">1.22000</text>
<text x="1231" y="231.5" font-family="'Liberation Sans', sans-serif" font-size="11" fill="#4c4c4c" textLength="37.6" lengthAdjust="spacingAndGlyphs">1.21000</text>
<text x="1231" y="275.5" font-family="'Liberation Sans', sans-serif" font-size="11" fill="#4c4c4c" textLength="37.6" lengthAdjust="spacingAndGlyphs">1.20000</text>
<text x="1231" y="319.5" font-family="'Liberation Sans', sans-serif" font-size="11" fill="#4c4c4c" textLength="37.6" lengthAdjust="spacingAndGlyphs">1.19000</text>
<text x="1231" y="363.5" font-family="'Liberation Sans', sans-serif" font-size="11" fill="#4c4c4c" textLength="37.6" lengthAdjust="spacingAndGlyphs">1.18000</text>
<text x="1231" y="407.5" font-family="'Liberation Sans', sans-serif" font-size="11" fill="#4c4c4c" textLength="37.6" lengthAdjust="spacingAndGlyphs">1.17000</text>
<text x="1231" y="451.5" font-family="'Liberation Sans', sans-serif" font-size="11" fill="#4c4c4c" textLength="37.6" lengthAdjust="spacingAndGlyphs">1.16000</text>
<rect x="1223" y="330" width="50" height="16" fill="#000"/>
<text x="1231" y="342" font-family="'Liberation Sans', sans-serif" font-size="11" fill="#fff" stroke="#fff" stroke-width="0.25" textLength="37.6" lengthAdjust="spacingAndGlyphs">1.18500</text>
<rect x="1223" y="404" width="50" height="16" fill="#ea4e5d"/>
<text x="1231" y="416" font-family="'Liberation Sans', sans-serif" font-size="11" fill="#fff" stroke="#fff" stroke-width="0.25" textLength="37.6" lengthAdjust="spacingAndGlyphs">1.16808</text>
<rect x="1223" y="484" width="50" height="16" fill="#000"/>
<text x="1231" y="496" font-family="'Liberation Sans', sans-serif" font-size="11" fill="#fff" stroke="#fff" stroke-width="0.25" textLength="37.6" lengthAdjust="spacingAndGlyphs">1.15000</text>
<rect x="1224" y="337" width="4" height="1" fill="#fff"/><rect x="1224" y="411" width="4" height="1" fill="#fff"/><rect x="1224" y="491" width="4" height="1" fill="#fff"/>
<text x="1231" y="554.5" font-family="'Liberation Sans', sans-serif" font-size="11" fill="#4c4c4c" textLength="32" lengthAdjust="spacingAndGlyphs">0.0000</text>
<text x="1231" y="598.5" font-family="'Liberation Sans', sans-serif" font-size="11" fill="#4c4c4c" textLength="36.5" lengthAdjust="spacingAndGlyphs">-0.0100</text>
<text x="8.5" y="632" text-anchor="middle" font-family="'Liberation Sans', sans-serif" font-size="11" font-weight="bold" fill="#4c4c4c">Feb</text>
<text x="90.5" y="632" text-anchor="middle" font-family="'Liberation Sans', sans-serif" font-size="11" font-weight="normal" fill="#4c4c4c">15</text>
<text x="172.5" y="632" text-anchor="middle" font-family="'Liberation Sans', sans-serif" font-size="11" font-weight="bold" fill="#4c4c4c">Mar</text>
<text x="271.5" y="632" text-anchor="middle" font-family="'Liberation Sans', sans-serif" font-size="11" font-weight="normal" fill="#4c4c4c">19</text>
<text x="353.5" y="632" text-anchor="middle" font-family="'Liberation Sans', sans-serif" font-size="11" font-weight="bold" fill="#4c4c4c">Apr</text>
<text x="436.5" y="632" text-anchor="middle" font-family="'Liberation Sans', sans-serif" font-size="11" font-weight="normal" fill="#4c4c4c">16</text>
<text x="526.5" y="632" text-anchor="middle" font-family="'Liberation Sans', sans-serif" font-size="11" font-weight="bold" fill="#4c4c4c">May</text>
<text x="608.5" y="632" text-anchor="middle" font-family="'Liberation Sans', sans-serif" font-size="11" font-weight="normal" fill="#4c4c4c">15</text>
<text x="715.5" y="632" text-anchor="middle" font-family="'Liberation Sans', sans-serif" font-size="11" font-weight="bold" fill="#4c4c4c">Jun</text>
<text x="806.5" y="632" text-anchor="middle" font-family="'Liberation Sans', sans-serif" font-size="11" font-weight="normal" fill="#4c4c4c">18</text>
<text x="888.5" y="632" text-anchor="middle" font-family="'Liberation Sans', sans-serif" font-size="11" font-weight="bold" fill="#4c4c4c">Jul</text>
<text x="971.5" y="632" text-anchor="middle" font-family="'Liberation Sans', sans-serif" font-size="11" font-weight="normal" fill="#4c4c4c">16</text>
<text x="1069.5" y="632" text-anchor="middle" font-family="'Liberation Sans', sans-serif" font-size="11" font-weight="bold" fill="#4c4c4c">Aug</text>
<text x="1176.5" y="632" text-anchor="middle" font-family="'Liberation Sans', sans-serif" font-size="11" font-weight="normal" fill="#4c4c4c">20</text>
<rect x="6.5" y="13.5" width="12" height="12" rx="1.5" fill="none" stroke="#555" stroke-width="1"/>
<rect x="8" y="19" width="9" height="1" fill="#555"/>
<polygon points="27,15 39,15 36,21 39,27 27,27" fill="#c8ccd0"/>
<text x="43.6" y="26.8" font-family="'Liberation Sans', sans-serif" font-size="16" font-weight="normal" fill="#4a4a4a" text-anchor="start" textLength="230.4" lengthAdjust="spacingAndGlyphs"  stroke="#4a4a4a" stroke-width="0.4">Euro Fx/U.S. Dollar, 1D, FXCM</text>
<polygon points="278.7,19.7 285.5,19.7 282.1,23.2" fill="#c9c9c9"/>
<rect x="296" y="15" width="14" height="14" fill="#d6d6d6"/><ellipse cx="303.0" cy="22.0" rx="4.2" ry="3.7" fill="none" stroke="#fff" stroke-width="2.4"/>
<rect x="313" y="15" width="14" height="14" fill="#d6d6d6"/><circle cx="320.0" cy="22.0" r="3.1" fill="none" stroke="#fff" stroke-width="2.6"/><line x1="323.20" y1="22.00" x2="325.40" y2="22.00" stroke="#fff" stroke-width="1.7"/><line x1="322.26" y1="24.26" x2="323.82" y2="25.82" stroke="#fff" stroke-width="1.7"/><line x1="320.00" y1="25.20" x2="320.00" y2="27.40" stroke="#fff" stroke-width="1.7"/><line x1="317.74" y1="24.26" x2="316.18" y2="25.82" stroke="#fff" stroke-width="1.7"/><line x1="316.80" y1="22.00" x2="314.60" y2="22.00" stroke="#fff" stroke-width="1.7"/><line x1="317.74" y1="19.74" x2="316.18" y2="18.18" stroke="#fff" stroke-width="1.7"/><line x1="320.00" y1="18.80" x2="320.00" y2="16.60" stroke="#fff" stroke-width="1.7"/><line x1="322.26" y1="19.74" x2="323.82" y2="18.18" stroke="#fff" stroke-width="1.7"/>
<text x="335.3" y="25.6" font-family="'Liberation Sans', sans-serif" font-size="14.5" font-weight="normal" fill="#6a6a6a" text-anchor="start" textLength="9.4" lengthAdjust="spacingAndGlyphs"  stroke="#6a6a6a" stroke-width="0.3">O</text>
<text x="347.6" y="25.6" font-family="'Liberation Sans', sans-serif" font-size="14.5" font-weight="normal" fill="#262626" text-anchor="start" textLength="53" lengthAdjust="spacingAndGlyphs"  stroke="#262626" stroke-width="0.15">1.16919</text>
<text x="411.2" y="25.6" font-family="'Liberation Sans', sans-serif" font-size="14.5" font-weight="normal" fill="#6a6a6a" text-anchor="start" textLength="8.8" lengthAdjust="spacingAndGlyphs"  stroke="#6a6a6a" stroke-width="0.3">H</text>
<text x="423.5" y="25.6" font-family="'Liberation Sans', sans-serif" font-size="14.5" font-weight="normal" fill="#262626" text-anchor="start" textLength="52.9" lengthAdjust="spacingAndGlyphs"  stroke="#262626" stroke-width="0.15">1.17169</text>
<text x="487.6" y="25.6" font-family="'Liberation Sans', sans-serif" font-size="14.5" font-weight="normal" fill="#6a6a6a" text-anchor="start" textLength="7.1" lengthAdjust="spacingAndGlyphs"  stroke="#6a6a6a" stroke-width="0.3">L</text>
<text x="497.6" y="25.6" font-family="'Liberation Sans', sans-serif" font-size="14.5" font-weight="normal" fill="#262626" text-anchor="start" textLength="52.9" lengthAdjust="spacingAndGlyphs"  stroke="#262626" stroke-width="0.15">1.16546</text>
<text x="561.1" y="25.6" font-family="'Liberation Sans', sans-serif" font-size="14.5" font-weight="normal" fill="#6a6a6a" text-anchor="start" textLength="8.2" lengthAdjust="spacingAndGlyphs"  stroke="#6a6a6a" stroke-width="0.3">C</text>
<text x="572.9" y="25.6" font-family="'Liberation Sans', sans-serif" font-size="14.5" font-weight="normal" fill="#262626" text-anchor="start" textLength="52.3" lengthAdjust="spacingAndGlyphs"  stroke="#262626" stroke-width="0.15">1.16808</text>
<text x="6.4" y="45.7" font-family="'Liberation Sans', sans-serif" font-size="12" font-weight="normal" fill="#4f4f4f" text-anchor="start" textLength="83" lengthAdjust="spacingAndGlyphs"  stroke="#4f4f4f" stroke-width="0.12">EMA (50, close)</text>
<polygon points="94.2,40.1 101.5,40.1 97.85,43.7" fill="#c9c9c9"/>
<rect x="112" y="36" width="14" height="14" fill="#d6d6d6"/><ellipse cx="119.0" cy="43.0" rx="4.2" ry="3.7" fill="none" stroke="#fff" stroke-width="2.4"/>
<rect x="129" y="36" width="14" height="14" fill="#d6d6d6"/><circle cx="136.0" cy="43.0" r="3.1" fill="none" stroke="#fff" stroke-width="2.6"/><line x1="139.20" y1="43.00" x2="141.40" y2="43.00" stroke="#fff" stroke-width="1.7"/><line x1="138.26" y1="45.26" x2="139.82" y2="46.82" stroke="#fff" stroke-width="1.7"/><line x1="136.00" y1="46.20" x2="136.00" y2="48.40" stroke="#fff" stroke-width="1.7"/><line x1="133.74" y1="45.26" x2="132.18" y2="46.82" stroke="#fff" stroke-width="1.7"/><line x1="132.80" y1="43.00" x2="130.60" y2="43.00" stroke="#fff" stroke-width="1.7"/><line x1="133.74" y1="40.74" x2="132.18" y2="39.18" stroke="#fff" stroke-width="1.7"/><line x1="136.00" y1="39.80" x2="136.00" y2="37.60" stroke="#fff" stroke-width="1.7"/><line x1="138.26" y1="40.74" x2="139.82" y2="39.18" stroke="#fff" stroke-width="1.7"/>
<rect x="146" y="36" width="14" height="14" fill="#d6d6d6"/><rect x="149.0" y="41.9" width="8" height="2.2" fill="#fff"/><rect x="151.9" y="39.0" width="2.2" height="8" fill="#fff"/>
<rect x="163" y="36" width="14" height="14" fill="#d6d6d6"/><path d="M165.8,38.8 L174.2,47.2 M174.2,38.8 L165.8,47.2" stroke="#fff" stroke-width="1.5"/>
<text x="186" y="47" font-family="'Liberation Sans', sans-serif" font-size="12" font-weight="normal" fill="#ff0000" text-anchor="start" textLength="31.8" lengthAdjust="spacingAndGlyphs"  stroke="#ff0000" stroke-width="0.1">1.1741</text>
<text x="6.4" y="67" font-family="'Liberation Sans', sans-serif" font-size="12" font-weight="normal" fill="#4f4f4f" text-anchor="start" textLength="89.6" lengthAdjust="spacingAndGlyphs"  stroke="#4f4f4f" stroke-width="0.12">EMA (200, close)</text>
<polygon points="101,61.3 107.8,61.3 104.4,64.9" fill="#c9c9c9"/>
<rect x="118" y="57" width="14" height="14" fill="#d6d6d6"/><ellipse cx="125.0" cy="64.0" rx="4.2" ry="3.7" fill="none" stroke="#fff" stroke-width="2.4"/>
<rect x="135" y="57" width="14" height="14" fill="#d6d6d6"/><circle cx="142.0" cy="64.0" r="3.1" fill="none" stroke="#fff" stroke-width="2.6"/><line x1="145.20" y1="64.00" x2="147.40" y2="64.00" stroke="#fff" stroke-width="1.7"/><line x1="144.26" y1="66.26" x2="145.82" y2="67.82" stroke="#fff" stroke-width="1.7"/><line x1="142.00" y1="67.20" x2="142.00" y2="69.40" stroke="#fff" stroke-width="1.7"/><line x1="139.74" y1="66.26" x2="138.18" y2="67.82" stroke="#fff" stroke-width="1.7"/><line x1="138.80" y1="64.00" x2="136.60" y2="64.00" stroke="#fff" stroke-width="1.7"/><line x1="139.74" y1="61.74" x2="138.18" y2="60.18" stroke="#fff" stroke-width="1.7"/><line x1="142.00" y1="60.80" x2="142.00" y2="58.60" stroke="#fff" stroke-width="1.7"/><line x1="144.26" y1="61.74" x2="145.82" y2="60.18" stroke="#fff" stroke-width="1.7"/>
<rect x="152" y="57" width="14" height="14" fill="#d6d6d6"/><rect x="155.0" y="62.9" width="8" height="2.2" fill="#fff"/><rect x="157.9" y="60.0" width="2.2" height="8" fill="#fff"/>
<rect x="169" y="57" width="14" height="14" fill="#d6d6d6"/><path d="M171.8,59.8 L180.2,68.2 M180.2,59.8 L171.8,68.2" stroke="#fff" stroke-width="1.5"/>
<text x="192" y="67.5" font-family="'Liberation Sans', sans-serif" font-size="12" font-weight="normal" fill="#3f51b5" text-anchor="start" textLength="32.7" lengthAdjust="spacingAndGlyphs"  stroke="#3f51b5" stroke-width="0.1">1.1857</text>
<text x="6.7" y="535.1" font-family="'Liberation Sans', sans-serif" font-size="12" font-weight="normal" fill="#4f4f4f" text-anchor="start" textLength="125.1" lengthAdjust="spacingAndGlyphs"  stroke="#4f4f4f" stroke-width="0.12">MACD (12, 26, close, 9)</text>
<polygon points="136.6,529 144.1,529 140.35,532.6" fill="#c9c9c9"/>
<rect x="154" y="524" width="14" height="14" fill="#d6d6d6"/><ellipse cx="161.0" cy="531.0" rx="4.2" ry="3.7" fill="none" stroke="#fff" stroke-width="2.4"/>
<rect x="171" y="524" width="14" height="14" fill="#d6d6d6"/><circle cx="178.0" cy="531.0" r="3.1" fill="none" stroke="#fff" stroke-width="2.6"/><line x1="181.20" y1="531.00" x2="183.40" y2="531.00" stroke="#fff" stroke-width="1.7"/><line x1="180.26" y1="533.26" x2="181.82" y2="534.82" stroke="#fff" stroke-width="1.7"/><line x1="178.00" y1="534.20" x2="178.00" y2="536.40" stroke="#fff" stroke-width="1.7"/><line x1="175.74" y1="533.26" x2="174.18" y2="534.82" stroke="#fff" stroke-width="1.7"/><line x1="174.80" y1="531.00" x2="172.60" y2="531.00" stroke="#fff" stroke-width="1.7"/><line x1="175.74" y1="528.74" x2="174.18" y2="527.18" stroke="#fff" stroke-width="1.7"/><line x1="178.00" y1="527.80" x2="178.00" y2="525.60" stroke="#fff" stroke-width="1.7"/><line x1="180.26" y1="528.74" x2="181.82" y2="527.18" stroke="#fff" stroke-width="1.7"/>
<rect x="188" y="524" width="14" height="14" fill="#d6d6d6"/><rect x="191.0" y="529.9" width="8" height="2.2" fill="#fff"/><rect x="193.9" y="527.0" width="2.2" height="8" fill="#fff"/>
<rect x="205" y="524" width="14" height="14" fill="#d6d6d6"/><path d="M207.8,526.8 L216.2,535.2 M216.2,526.8 L207.8,535.2" stroke="#fff" stroke-width="1.5"/>
<text x="227.4" y="535.9" font-family="'Liberation Sans', sans-serif" font-size="12" font-weight="normal" fill="#f0006c" text-anchor="start" textLength="33.3" lengthAdjust="spacingAndGlyphs"  stroke="#f0006c" stroke-width="0.1">0.0004</text>
<text x="272" y="535.9" font-family="'Liberation Sans', sans-serif" font-size="12" font-weight="normal" fill="#2196f3" text-anchor="start" textLength="36.3" lengthAdjust="spacingAndGlyphs"  stroke="#2196f3" stroke-width="0.1">-0.0005</text>
<text x="319.6" y="535.9" font-family="'Liberation Sans', sans-serif" font-size="12" font-weight="normal" fill="#ff6d00" text-anchor="start" textLength="37" lengthAdjust="spacingAndGlyphs"  stroke="#ff6d00" stroke-width="0.1">-0.0009</text>
<circle cx="1209" cy="19" r="6.9" fill="none" stroke="#ff9040" stroke-width="1.5"/>
<rect x="1208.4" y="14.5" width="1.3" height="6" fill="#ff9040"/><rect x="1208.4" y="22" width="1.3" height="1.4" fill="#ff9040"/>
<rect x="1" y="636" width="1272" height="1" fill="#e0e3eb"/>
<text x="14.4" y="658" font-family="'Liberation Sans', sans-serif" font-size="13" font-weight="normal" fill="#4a4a5a" text-anchor="start" textLength="14.6" lengthAdjust="spacingAndGlyphs"  stroke="#4a4a5a" stroke-width="0.2">1D</text>
<text x="45.5" y="658" font-family="'Liberation Sans', sans-serif" font-size="13" font-weight="normal" fill="#4a4a5a" text-anchor="start" textLength="14.1" lengthAdjust="spacingAndGlyphs"  stroke="#4a4a5a" stroke-width="0.2">5D</text>
<text x="76.3" y="658" font-family="'Liberation Sans', sans-serif" font-size="13" font-weight="normal" fill="#4a4a5a" text-anchor="start" textLength="23.2" lengthAdjust="spacingAndGlyphs"  stroke="#4a4a5a" stroke-width="0.2">1Mo</text>
<text x="116.3" y="658" font-family="'Liberation Sans', sans-serif" font-size="13" font-weight="normal" fill="#4a4a5a" text-anchor="start" textLength="23.2" lengthAdjust="spacingAndGlyphs"  stroke="#4a4a5a" stroke-width="0.2">3Mo</text>
<text x="156.3" y="658" font-family="'Liberation Sans', sans-serif" font-size="13" font-weight="normal" fill="#4a4a5a" text-anchor="start" textLength="23.2" lengthAdjust="spacingAndGlyphs"  stroke="#4a4a5a" stroke-width="0.2">6Mo</text>
<text x="195.9" y="658" font-family="'Liberation Sans', sans-serif" font-size="13" font-weight="normal" fill="#4a4a5a" text-anchor="start" textLength="22.9" lengthAdjust="spacingAndGlyphs"  stroke="#4a4a5a" stroke-width="0.2">YTD</text>
<text x="235.2" y="658" font-family="'Liberation Sans', sans-serif" font-size="13" font-weight="normal" fill="#4a4a5a" text-anchor="start" textLength="13.8" lengthAdjust="spacingAndGlyphs"  stroke="#4a4a5a" stroke-width="0.2">1Y</text>
<text x="265.3" y="658" font-family="'Liberation Sans', sans-serif" font-size="13" font-weight="normal" fill="#4a4a5a" text-anchor="start" textLength="13.8" lengthAdjust="spacingAndGlyphs"  stroke="#4a4a5a" stroke-width="0.2">5Y</text>
<text x="295.2" y="658" font-family="'Liberation Sans', sans-serif" font-size="13" font-weight="normal" fill="#4a4a5a" text-anchor="start" textLength="14.1" lengthAdjust="spacingAndGlyphs"  stroke="#4a4a5a" stroke-width="0.2">All</text>
<text x="337.2" y="658" font-family="'Liberation Sans', sans-serif" font-size="13" font-weight="normal" fill="#4a4a5a" text-anchor="start" textLength="45.9" lengthAdjust="spacingAndGlyphs"  stroke="#4a4a5a" stroke-width="0.2">Go to...</text>
<rect x="322" y="643" width="1" height="20" fill="#e0e3eb"/>
<text x="1019.4" y="658" font-family="'Liberation Sans', sans-serif" font-size="13" font-weight="normal" fill="#4a4a5a" text-anchor="start" textLength="89" lengthAdjust="spacingAndGlyphs" >18:41:01 (UTC)</text>
<rect x="1123" y="643" width="1" height="20" fill="#e0e3eb"/>
<text x="1137.2" y="658" font-family="'Liberation Sans', sans-serif" font-size="13" font-weight="normal" fill="#4a4a5a" text-anchor="start" textLength="11.4" lengthAdjust="spacingAndGlyphs" >%</text>
<text x="1165.3" y="658" font-family="'Liberation Sans', sans-serif" font-size="13" font-weight="normal" fill="#4a4a5a" text-anchor="start" textLength="16.7" lengthAdjust="spacingAndGlyphs" >log</text>
<text x="1200.1" y="658" font-family="'Liberation Sans', sans-serif" font-size="13" font-weight="normal" fill="#2196f3" text-anchor="start" textLength="25.7" lengthAdjust="spacingAndGlyphs" >auto</text>
<circle cx="1251" cy="653" r="3.4" fill="none" stroke="#3e4454" stroke-width="2"/>
<line x1="1254.80" y1="653.00" x2="1257.80" y2="653.00" stroke="#3e4454" stroke-width="1.8"/>
<line x1="1253.69" y1="655.69" x2="1255.81" y2="657.81" stroke="#3e4454" stroke-width="1.8"/>
<line x1="1251.00" y1="656.80" x2="1251.00" y2="659.80" stroke="#3e4454" stroke-width="1.8"/>
<line x1="1248.31" y1="655.69" x2="1246.19" y2="657.81" stroke="#3e4454" stroke-width="1.8"/>
<line x1="1247.20" y1="653.00" x2="1244.20" y2="653.00" stroke="#3e4454" stroke-width="1.8"/>
<line x1="1248.31" y1="650.31" x2="1246.19" y2="648.19" stroke="#3e4454" stroke-width="1.8"/>
<line x1="1251.00" y1="649.20" x2="1251.00" y2="646.20" stroke="#3e4454" stroke-width="1.8"/>
<line x1="1253.69" y1="650.31" x2="1255.81" y2="648.19" stroke="#3e4454" stroke-width="1.8"/>
</svg>
</body></html>
